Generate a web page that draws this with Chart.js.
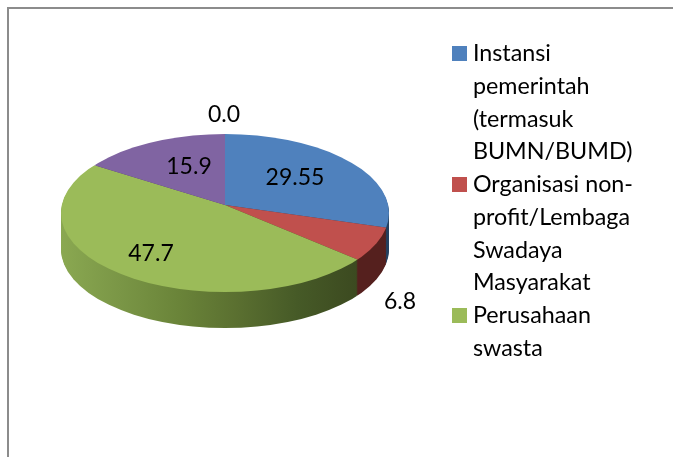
<!DOCTYPE html>
<html>
<head>
<meta charset="utf-8">
<script src="https://cdn.jsdelivr.net/npm/chart.js@4/dist/chart.umd.min.js"></script>
<style>
  html, body { margin: 0; padding: 0; background: #fff; }
  #wrap { position: relative; width: 673px; height: 457px; overflow: hidden; }
  #frame { position: absolute; left: 7px; top: 7px; right: 0; bottom: 0; border-left: 2px solid #8c8c8c; border-top: 2px solid #8c8c8c; }
  canvas { position: absolute; left: 0; top: 0; }
</style>
</head>
<body>
<div id="wrap">
  <div id="frame"></div>
  <canvas id="grafica" width="673" height="457"></canvas>
</div>
<script>
// only the first three names can be read in the legend
const categories = [
  ["Instansi", "pemerintah", "(termasuk", "BUMN/BUMD)"],
  ["Organisasi non-", "profit/Lembaga", "Swadaya", "Masyarakat"],
  ["Perusahaan", "swasta"],
  "",
  ""
];
const values = [29.55, 6.8, 47.7, 15.9, 0.0];
const colors = ["#4F81BD", "#C0504D", "#9BBB59", "#8064A2", "#4BACC6"];
const rimColors = [
  ["#24405f", "#24405f"],
  ["#5e2422", "#55201e"],
  ["#8aa851", "#7a9646", "#6a8439", "#5a6f30", "#465a27", "#3c4a20"],
  ["#4c3c62", "#4c3c62"],
  ["#2d6676", "#2d6676"]
];

// ellipse of the top face and tilted pie centre
const face = { x: 225, y: 213, rx: 164, ry: 79, apexY: 205, squash: 0.475, depth: 36 };
// text centre of each value label
const labelPos = [[295, 178], [400, 302], [151, 254], [189, 167], [224, 115]];

function cuadroLeyenda(color) {
  const c = document.createElement("canvas");
  c.width = 15;
  c.height = 15;
  const g = c.getContext("2d");
  g.fillStyle = color;
  g.fillRect(0, 0, 15, 15);
  return c;
}

function aplicarCara(ctx, arc, dy) {
  ctx.beginPath();
  ctx.ellipse(face.x, face.y + dy, face.rx, face.ry, 0, 0, Math.PI * 2);
  ctx.clip();
  ctx.translate(face.x, face.apexY + dy);
  ctx.scale(1, face.squash);
  ctx.translate(-arc.x, -arc.y);
}

const pie3d = {
  id: "pie3d",
  afterLayout(chart) {
    // the legend squares stick out of the legend box, so skip its clip
    chart.legend.draw = chart.legend._draw;
  },
  beforeDatasetsDraw(chart) {
    const ctx = chart.ctx;
    const arcs = chart.getDatasetMeta(0).data;
    const shiftX = arcs[0].x - face.x;

    // side of the pie: same slices repeated downwards, darker
    const fills = rimColors.map(stops => {
      const g = ctx.createLinearGradient(face.x - face.rx + shiftX, 0, face.x + face.rx * 0.8 + shiftX, 0);
      stops.forEach((s, i) => g.addColorStop(i / (stops.length - 1), s));
      return g;
    });
    for (let dy = face.depth; dy >= 1; dy--) {
      ctx.save();
      aplicarCara(ctx, arcs[0], dy);
      arcs.forEach((arc, i) => {
        const original = arc.options;
        arc.options = Object.assign({}, original, { backgroundColor: fills[i] });
        arc.draw(ctx);
        arc.options = original;
      });
      ctx.restore();
    }

    ctx.save();
    aplicarCara(ctx, arcs[0], 0);
  },
  afterDatasetsDraw(chart) {
    const ctx = chart.ctx;
    ctx.restore();

    ctx.save();
    ctx.font = "23px Lato";
    ctx.fillStyle = "#000";
    ctx.textAlign = "center";
    ctx.textBaseline = "middle";
    values.forEach((v, i) => {
      const texto = Number.isInteger(v * 10) ? v.toFixed(1) : String(v);
      ctx.fillText(texto, labelPos[i][0], labelPos[i][1]);
    });
    ctx.restore();
  }
};

new Chart(document.getElementById("grafica"), {
  type: "pie",
  data: {
    labels: categories,
    datasets: [{
      data: values,
      backgroundColor: colors,
      borderWidth: 0,
      radius: 200,
      clip: false
    }]
  },
  options: {
    responsive: false,
    animation: false,
    layout: { padding: { top: 42, right: 30 } },
    plugins: {
      tooltip: { enabled: false },
      legend: {
        position: "right",
        align: "start",
        labels: {
          color: "#000",
          font: { family: "Lato", size: 23.3, lineHeight: 1.406 },
          padding: 0,
          usePointStyle: true,
          pointStyleWidth: 4,
          filter: item => item.text !== "",
          generateLabels(chart) {
            const items = Chart.overrides.doughnut.plugins.legend.labels.generateLabels(chart);
            items.forEach(item => { item.pointStyle = cuadroLeyenda(item.fillStyle); });
            return items;
          }
        }
      }
    }
  },
  plugins: [pie3d]
});
</script>
</body>
</html>
